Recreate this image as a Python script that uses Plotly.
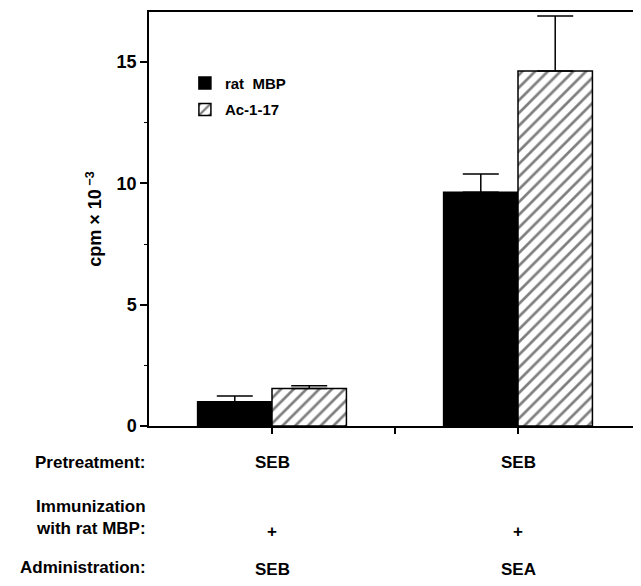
import plotly.graph_objects as go

# Data
groups = [0, 1]
series_names = ["rat  MBP", "Ac-1-17"]
rat_mbp = [1.0, 9.63]
rat_mbp_err = [0.24, 0.75]
ac117 = [1.55, 14.63]
ac117_err = [0.11, 2.27]
y_ticks = [0, 5, 10, 15]
row_labels = ["Pretreatment:", "Immunization<br>with rat MBP:", "Administration:"]
pretreatment = ["SEB", "SEB"]
immunization = ["+", "+"]
administration = ["SEB", "SEA"]

FONT = "Liberation Sans"

fig = go.Figure()
fig.add_trace(go.Bar(
    x=groups, y=rat_mbp, name=series_names[0], legendgroup="a",
    marker=dict(color="black", line=dict(color="black", width=1.5)),
    error_y=dict(type="data", array=rat_mbp_err, arrayminus=[0, 0], symmetric=False,
                 color="black", thickness=1.5, width=18),
))
fig.add_trace(go.Bar(
    x=groups, y=ac117, name=series_names[1], legendgroup="b",
    marker=dict(color="white", line=dict(color="black", width=1.5),
                pattern=dict(shape="/", fgcolor="black", bgcolor="white", size=9, solidity=0.3)),
    error_y=dict(type="data", array=ac117_err, arrayminus=[0, 0], symmetric=False,
                 color="black", thickness=1.5, width=18),
))

fig.update_layout(
    width=633, height=578,
    margin=dict(l=141, r=0, t=4, b=160),
    paper_bgcolor="white", plot_bgcolor="white",
    barmode="group", bargap=0.395, bargroupgap=0,
    font=dict(family=FONT, color="black", weight="bold"),
    showlegend=True,
    legend=dict(x=0.073, y=0.868, xanchor="left", yanchor="top",
                font=dict(size=15, family=FONT, weight="bold"),
                bgcolor="rgba(0,0,0,0)", tracegroupgap=4),
)
fig.update_xaxes(
    range=[-0.5, 1.5], tickvals=[0, 0.5, 1], showticklabels=False,
    ticks="outside", ticklen=6, tickwidth=1.5, tickcolor="black",
    showline=True, linecolor="black", linewidth=1.5, mirror=True,
    showgrid=False, zeroline=False,
)
fig.update_yaxes(
    range=[0, 17.06], tickvals=y_ticks,
    ticks="outside", ticklen=7, tickwidth=1.5, tickcolor="black",
    tickfont=dict(size=18, family=FONT, weight="bold"),
    minor=dict(dtick=2.5, ticks="outside", ticklen=3, tickwidth=1, tickcolor="black"),
    showline=True, linecolor="black", linewidth=1.5,
    showgrid=False, zeroline=False,
    title=dict(text="cpm × 10<sup> −3</sup>", font=dict(size=18, family=FONT, weight="bold"), standoff=10),
)

# bottom table labels
row_y = [-36, -91, -141]
for lbl, ys in zip(row_labels, row_y):
    fig.add_annotation(text=lbl, xref="paper", yref="paper", x=0, y=0, xshift=-1,
                       yshift=ys, xanchor="right", yanchor="middle", align="right",
                       showarrow=False, font=dict(size=17, family=FONT, weight="bold"))
for vals, ys in zip([pretreatment, immunization, administration], [-36, -105, -143]):
    for g, v in zip(groups, vals):
        fig.add_annotation(text=v, xref="x", yref="paper", x=g, y=0, yshift=ys,
                           xanchor="center", yanchor="middle", showarrow=False,
                           font=dict(size=17, family=FONT, weight="bold"))

fig.write_html("out.html")
